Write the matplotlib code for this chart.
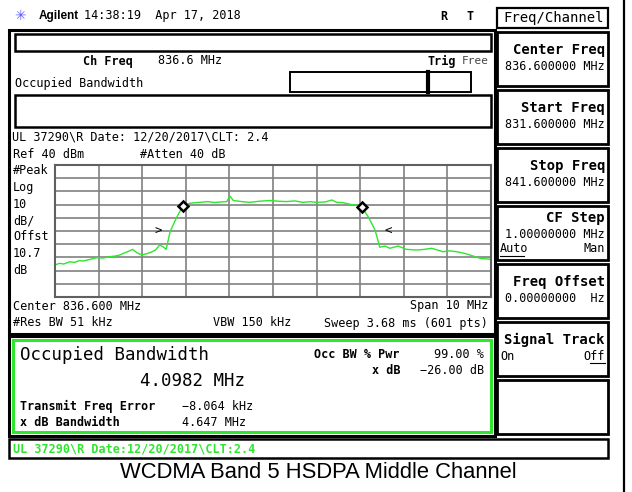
import matplotlib
matplotlib.use("Agg")
import matplotlib.pyplot as plt
from matplotlib.patches import Rectangle

# trace
freq_mhz = [831.60, 831.70, 831.80, 831.94, 832.05, 832.15, 832.25, 832.40, 832.56, 832.70,
            832.85, 833.00, 833.10, 833.17, 833.28, 833.38, 833.48, 833.59, 833.70, 833.78,
            833.90, 834.00, 834.08, 834.15, 834.24, 834.38, 834.53, 834.62, 834.70, 834.80,
            834.93, 835.10, 835.25, 835.38, 835.54, 835.61, 835.69, 835.85, 836.07, 836.30,
            836.53, 836.75, 836.91, 837.10, 837.29, 837.45, 837.60, 837.80, 837.95, 838.06,
            838.20, 838.37, 838.50, 838.63, 838.72, 838.79, 838.94, 839.05, 839.17, 839.28,
            839.47, 839.66, 839.89, 840.05, 840.24, 840.50, 840.65, 840.81, 841.00, 841.12,
            841.35, 841.60]
level_dbm = [-35.8, -34.5, -35.0, -33.3, -33.8, -32.5, -32.7, -31.5, -30.2, -30.5,
             -29.5, -28.9, -28.0, -26.9, -25.5, -23.9, -26.5, -28.2, -27.2, -26.4,
             -24.5, -20.6, -22.0, -23.9, -10.5, -0.4, 8.9, 10.3, 11.0, 11.4,
             11.7, 12.3, 11.6, 11.9, 12.3, 16.5, 13.1, 12.4, 11.7, 12.6,
             13.1, 12.5, 12.3, 12.8, 11.7, 12.2, 11.7, 12.0, 13.5, 11.7,
             11.5, 10.2, 9.6, 8.5, 4.0, 0.4, -9.2, -22.3, -21.4, -23.1,
             -21.4, -23.9, -24.4, -24.0, -23.1, -25.7, -25.0, -25.7, -27.0, -28.2,
             -30.7, -31.4]
marker_freq = [834.53, 838.63]
marker_level = [8.9, 8.5]
edge_freq = [833.96, 839.24]
edge_level = [-10.0, -10.0]
edge_sym = [">", "<"]

softkeys = [("Center Freq", "836.600000 MHz"), ("Start Freq", "831.600000 MHz"),
            ("Stop Freq", "841.600000 MHz"), ("CF Step", "1.00000000 MHz"),
            ("Freq Offset", "0.00000000  Hz"), ("Signal Track", "")]
side_labels = ["#Peak", "Log", "10", "dB/", "Offst", "10.7", "dB"]

MONO = "DejaVu Sans Mono"
GREEN = "#2ee62e"

fig = plt.figure(figsize=(6.32, 4.92), dpi=100)
ax = fig.add_axes([0, 0, 1, 1])
ax.set_xlim(0, 632); ax.set_ylim(492, 0); ax.axis("off")


def rect(x0, y0, x1, y1, lw=1.6, color="black"):
    ax.add_patch(Rectangle((x0, y0), x1 - x0, y1 - y0, fill=False, lw=lw, edgecolor=color))


def t(x, y, s, size=8.5, ha="left", bold=False, color="black", family=MONO):
    ax.text(x, y, s, fontsize=size, ha=ha, va="center", color=color, family=family,
            fontweight="bold" if bold else "normal")


# header
ax.text(20, 16, "\u2733", fontsize=10, ha="center", va="center", color="#5a5aff")
t(39, 16, "Agilent", size=8.5, bold=True, family="Liberation Sans")
t(84, 16, "14:38:19  Apr 17, 2018", size=8.5)
t(444, 16, "R", bold=True, ha="center")
t(470, 16, "T", bold=True, ha="center")
ax.plot([624, 624], [0, 492], color="black", lw=1.6)

# upper panel
rect(9, 30, 495, 334, lw=2.2)
rect(15, 34, 491, 51, lw=1.8)
t(83, 61, "Ch Freq", bold=True)
t(158, 61, "836.6 MHz")
t(427, 61, "Trig", bold=True)
t(489, 61, "Free", ha="right", size=8, color="#444444")
t(15, 83, "Occupied Bandwidth")
rect(290, 72, 471, 92, lw=1.4)
ax.plot([428, 428], [72, 92], color="black", lw=3)
rect(15, 95, 491, 127, lw=1.8)
t(12, 137, "UL 37290\\R Date: 12/20/2017\\CLT: 2.4")
t(13, 155, "Ref 40 dBm")
t(140, 155, "#Atten 40 dB")
for i, lab in enumerate(side_labels):
    t(13, 171 + i * 16.5, lab)
t(13, 306, "Center 836.600 MHz")
t(488, 306, "Span 10 MHz", ha="right")
t(13, 323, "#Res BW 51 kHz")
t(213, 323, "VBW 150 kHz")
t(488, 323, "Sweep 3.68 ms (601 pts)", ha="right")

# measurement panel
rect(9, 336, 495, 436, lw=2.2)
rect(13, 340, 491, 432, lw=2.2, color=GREEN)
t(20, 355, "Occupied Bandwidth", size=12.5)
t(192, 381, "4.0982 MHz", size=12.5, ha="center")
t(400, 355, "Occ BW % Pwr", bold=True, ha="right")
t(484, 355, "99.00 %", ha="right")
t(400, 371, "x dB", bold=True, ha="right")
t(484, 371, "\u221226.00 dB", ha="right")
t(20, 406, "Transmit Freq Error", bold=True)
t(182, 406, "\u22128.064 kHz")
t(20, 423, "x dB Bandwidth", bold=True)
t(182, 423, "4.647 MHz")

# status strip
rect(9, 439, 608, 458, lw=1.8)
t(13, 448.5, "UL 37290\\R Date:12/20/2017\\CLT:2.4", bold=True, color=GREEN)
ax.text(318, 472, "WCDMA Band 5 HSDPA Middle Channel", fontsize=15.8, ha="center",
        va="center", family="Liberation Sans")

# softkeys
rect(497, 8, 608, 28, lw=1.6)
t(604, 18, "Freq/Channel", size=10, ha="right")
tops = [32, 90, 148, 206, 264, 322]
for (title, value), y0 in zip(softkeys, tops):
    rect(497, y0, 608, y0 + 54, lw=2)
    ty = y0 + 12 if title in ("CF Step", "Signal Track") else y0 + 18
    t(605, ty + 6 if title == "Signal Track" else ty, title, size=10, bold=True, ha="right")
    if value:
        t(605, ty + 16 if title == "CF Step" else ty + 17, value, ha="right")
t(500, 249, "Auto")
ax.plot([500, 524], [256, 256], color="black", lw=0.8)
t(605, 249, "Man", ha="right")
t(500, 357, "On")
t(605, 357, "Off", ha="right")
ax.plot([590, 605], [363, 363], color="black", lw=0.8)
rect(497, 380, 608, 434, lw=2)

# trace graticule
g = fig.add_axes([55 / 632, 1 - 297 / 492, 436 / 632, 132 / 492])
g.set_xlim(831.6, 841.6); g.set_ylim(-60, 40)
g.set_xticks([831.6 + i for i in range(11)])
g.set_yticks(range(-60, 41, 10))
g.tick_params(length=0, labelbottom=False, labelleft=False)
g.grid(True, color="#808080", lw=1.2)
for s in g.spines.values():
    s.set_color("#606060"); s.set_linewidth(1.5)
g.plot(freq_mhz, level_dbm, color=GREEN, lw=1.0)
g.plot(marker_freq, marker_level, "D", ms=5.5, mfc="white", mec="black", mew=1.8)
for f, lv, s in zip(edge_freq, edge_level, edge_sym):
    g.text(f, lv, s, fontsize=9, ha="center", va="center", family=MONO)

fig.savefig("out.png", dpi=100)
